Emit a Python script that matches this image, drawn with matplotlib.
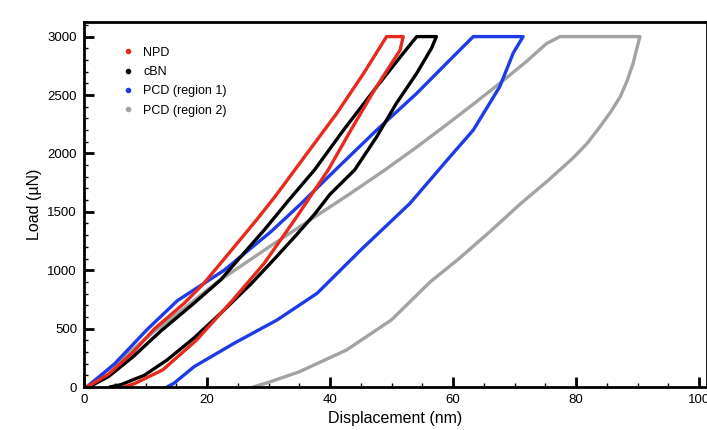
import matplotlib
matplotlib.use("Agg")
import matplotlib.pyplot as plt
from matplotlib.lines import Line2D
from matplotlib.ticker import MultipleLocator

plt.rcParams['font.family'] = ['Liberation Sans', 'DejaVu Sans']

# load-displacement curves (nm, uN): loading, hold, unloading
npd_x = [0.5, 4, 8, 11.5, 16.3, 19.5, 22.2, 24.9, 28.2, 31.2, 35.7, 41.1, 45.4, 49.2,
         51.9, 51.4, 47.3, 43.4, 39.7, 34.5, 29.3, 24.2, 18.3, 12.8, 8.3, 6.5]
npd_y = [0, 110, 300, 500, 717, 888, 1059, 1230, 1440, 1640, 1960, 2343, 2680, 3000,
         3000, 2885, 2550, 2200, 1858, 1450, 1059, 745, 402, 146, 31, 0]

cbn_x = [0.8, 4, 8, 12.5, 17.5, 22.2, 25.5, 29.3, 33.3, 37.5, 42.2, 47.6, 51.9, 54.1,
         57.3, 56.5, 54.1, 50.8, 47.6, 44, 40, 37.5, 34.5, 30.8, 27.1, 22.8, 17.9,
         13.5, 9.8, 6.0, 4.2]
cbn_y = [0, 90, 260, 480, 700, 916, 1116, 1344, 1600, 1860, 2200, 2571, 2857, 3000,
         3000, 2900, 2686, 2429, 2143, 1858, 1650, 1480, 1300, 1087, 880, 660, 420,
         231, 100, 20, 0]

pcd1_x = [0.5, 5, 10.3, 15.2, 22.8, 30.4, 35.1, 41.1, 47.6, 54.1, 59, 61.1, 63.3,
          71.4, 69.8, 67.6, 63.3, 59, 53, 45, 37.9, 31.4, 24.4, 17.9, 14.6, 13.5]
pcd1_y = [0, 200, 494, 740, 1000, 1330, 1560, 1870, 2200, 2514, 2774, 2885, 3000,
          3000, 2860, 2571, 2200, 1940, 1572, 1173, 802, 574, 374, 174, 31, 0]

pcd2_x = [0.3, 5, 11.5, 16, 21.7, 30.4, 38.5, 43.4, 48.7, 54, 59.3, 63.5, 67.6, 72, 75.2,
          77.4, 90.4, 89.8, 89.3, 88.3, 87.2, 85.7, 83.9, 81.8, 79.5, 75.5, 71, 66, 61,
          56.3, 50, 42.7, 35, 30, 27.5]
pcd2_y = [0, 190, 480, 660, 900, 1210, 1490, 1660, 1850, 2050, 2260, 2430, 2600, 2790, 2940,
          3000, 3000, 2880, 2774, 2620, 2486, 2360, 2229, 2085, 1960, 1770, 1570, 1330, 1100,
          900, 575, 317, 130, 40, 0]

names = ['NPD', 'cBN', 'PCD (region 1)', 'PCD (region 2)']
colors = ['#e62a1e', '#000000', '#1f3be6', '#a3a3a3']

fig = plt.figure(figsize=(7.07, 4.30), dpi=100)
ax = fig.add_axes([84 / 707, 43 / 430, (707 - 84) / 707, 365 / 430])

for xs, ys, c in zip([pcd2_x, pcd1_x, cbn_x, npd_x], [pcd2_y, pcd1_y, cbn_y, npd_y],
                     colors[::-1]):
    ax.plot(xs, ys, color=c, lw=2.4, solid_joinstyle='round', solid_capstyle='round')

ax.set_xlim(0, 101.3)
ax.set_ylim(0, 3125)
ax.xaxis.set_major_locator(MultipleLocator(20))
ax.xaxis.set_minor_locator(MultipleLocator(5))
ax.yaxis.set_major_locator(MultipleLocator(500))
ax.yaxis.set_minor_locator(MultipleLocator(100))
ax.tick_params(which='major', direction='in', length=7, width=2, labelsize=9.5,
               top=False, right=False, pad=5)
ax.tick_params(which='minor', direction='in', length=3, width=1, top=False, right=False)
for s in ax.spines.values():
    s.set_linewidth(2)

ax.set_xlabel('Displacement (nm)', fontsize=11.5, labelpad=4)
ax.set_ylabel('Load (\u00b5N)', fontsize=11.5, labelpad=4)

handles = [Line2D([], [], ls='none', marker='o', ms=3, color=c) for c in colors]
ax.legend(handles, names, loc='upper left', bbox_to_anchor=(0.041, 0.963), frameon=False,
          fontsize=9, handletextpad=0.6, labelspacing=0.58, handlelength=1.2)

fig.savefig('out.png', dpi=100)
